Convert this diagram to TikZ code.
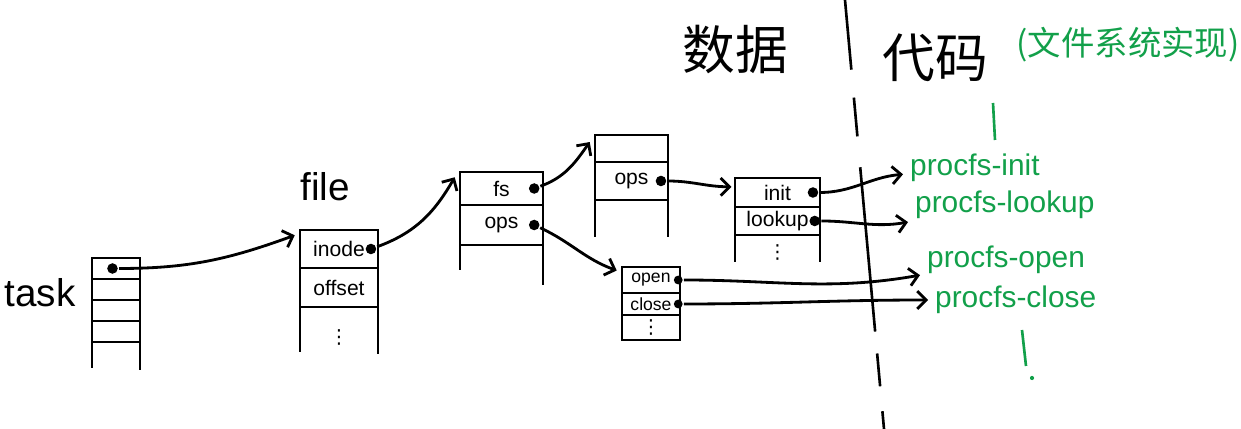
\documentclass[tikz,border=0pt]{standalone}
\usepackage{fontspec}
\setmainfont{Liberation Sans}
\newfontfamily\cjk{Noto Sans CJK SC}
\newfontfamily\dejavu{DejaVu Sans}
\usetikzlibrary{positioning, arrows.meta}
\definecolor{pengreen}{RGB}{18,160,74}

\begin{document}
\begin{tikzpicture}[
    x=0.02cm, y=0.02cm,
    line width=1.5pt,
    field/.style={rectangle, draw, inner sep=0pt, outer sep=0pt, font=\fontsize{12}{13}\selectfont},
    small/.style={font=\fontsize{10}{11}\selectfont},
    ptr/.style={circle, fill, inner sep=0pt, minimum size=6pt},
    link/.style={-{Straight Barb[length=5pt, width=10pt]}, line width=1.6pt},
    more/.style={inner sep=0pt, font=\dejavu\fontsize{11}{12}\selectfont},
    title/.style={font=\fontsize{22}{24}\selectfont},
    heading/.style={font=\cjk\fontsize{30}{32}\selectfont},
    note/.style={text=pengreen, font=\cjk\fontsize{19}{21}\selectfont},
    impl/.style={text=pengreen, anchor=west, font=\fontsize{17}{19}\selectfont}
]
\useasboundingbox (0,0) rectangle (1241,429);

% Headings
\node[heading] (data) at (735,379) {数据};
\node[heading] (code) at (935,371) {代码};
\node[note] (implnote) at (1128,384) {(文件系统实现)};
\draw[dash pattern=on 1.4cm off 0.56cm on 0.78cm off 0.62cm on 3.3cm off 0.44cm on 0.66cm off 0.5cm on 0.4cm off 1cm] (845,429) -- (884,0);

% task
\node[title] (task) at (40,136) {task};
\node[field, minimum width=0.96cm, minimum height=0.42cm, anchor=north west] (t1) at (92,171) {};
\node[field, minimum width=0.96cm, minimum height=0.42cm, below=0pt of t1] (t2) {};
\node[field, minimum width=0.96cm, minimum height=0.42cm, below=0pt of t2] (t3) {};
\node[field, minimum width=0.96cm, minimum height=0.42cm, below=0pt of t3] (t4) {};
\draw (t4.south west) -- ++(0,-26);
\draw (t4.south east) -- ++(0,-28);
\node[ptr] (taskp) at ([xshift=-2pt]t1.center) {};

% file
\node[title] (file) at (325,242) {file};
\node[field, minimum width=1.56cm, minimum height=0.76cm, anchor=north west] (inode) at (300,199) {inode};
\node[field, minimum width=1.56cm, minimum height=0.78cm, below=0pt of inode] (offset) {offset};
\draw (offset.south west) -- ++(0,-45);
\draw (offset.south east) -- ++(0,-47);
\node[more, below=12pt of offset] (filemore) {⋮};
\node[ptr] (inodep) at ([xshift=-4pt]inode.east) {};

% inode: fs / ops
\node[field, minimum width=1.66cm, minimum height=0.66cm, anchor=north west] (fs) at (460,257) {fs};
\node[field, minimum width=1.66cm, minimum height=0.8cm, below=0pt of fs] (iops) {ops};
\draw (iops.south west) -- ++(0,-25);
\draw (iops.south east) -- ++(0,-40);
\node[ptr] (fsp) at ([xshift=-5pt]fs.east) {};
\node[ptr] (iopsp) at ([xshift=-5pt]iops.east) {};

% super block
\node[field, minimum width=1.46cm, minimum height=0.54cm, anchor=north west] (sb) at (595,294) {};
\node[field, minimum width=1.46cm, minimum height=0.76cm, below=0pt of sb] (sops) {ops};
\draw (sops.south west) -- ++(0,-37);
\draw (sops.south east) -- ++(0,-37);
\node[ptr] (sopsp) at ([xshift=-4pt]sops.east) {};

% fs operations
\node[field, minimum width=1.7cm, minimum height=0.58cm, anchor=north west] (init) at (735,251) {init};
\node[field, minimum width=1.7cm, minimum height=0.56cm, below=0pt of init] (lookup) {lookup};
\draw (lookup.south west) -- ++(0,-27);
\draw (lookup.south east) -- ++(0,-27);
\node[more, below=5pt of lookup] (lookupmore) {⋮};
\node[ptr] (initp) at ([xshift=-4pt]init.east) {};
\node[ptr] (lookupp) at ([xshift=-3pt]lookup.east) {};

% file operations
\node[field, small, minimum width=1.16cm, minimum height=0.52cm, anchor=north west] (open) at (622,162) {open};
\node[field, small, minimum width=1.16cm, minimum height=0.44cm, below=0pt of open] (close) {close};
\node[field, more, minimum width=1.16cm, minimum height=0.5cm, below=0pt of close] (fopsmore) {⋮};
\node[ptr, minimum size=5pt] (openp) at ([xshift=-1pt]open.east) {};
\node[ptr, minimum size=5pt] (closep) at ([xshift=-1pt]close.east) {};

% Code side
\node[impl] (pinit) at (903,261) {procfs-init};
\node[impl] (plookup) at (908,224) {procfs-lookup};
\node[impl] (popen) at (920,169) {procfs-open};
\node[impl] (pclose) at (928,129) {procfs-close};
\draw[pengreen] (993,326) -- (995,289);
\draw[pengreen] (1022,99) -- (1026,63);
\fill[pengreen] (1032,51) circle (1.2pt);

% Entry points
\coordinate (fileIn) at ([xshift=-3pt,yshift=-3pt]inode.north west);
\coordinate (fsIn) at ([xshift=-3pt,yshift=-3pt]fs.north west);
\coordinate (sbIn) at ([xshift=-3pt,yshift=-4pt]sb.north west);
\coordinate (openIn) at ([xshift=-3pt,yshift=-2pt]open.north west);
\coordinate (initIn) at ([xshift=-2pt,yshift=-5pt]init.north west);

% Pointers
\draw[link] (taskp) to[out=0, in=200] (fileIn);
\draw[link] (inodep) to[out=20, in=240] (fsIn);
\draw[link] (fsp) to[out=20, in=235] (sbIn);
\draw[link] (iopsp) to[out=-25, in=160] (openIn);
\draw[link] (sopsp) to[out=0, in=180] (initIn);
\draw[link] (initp) to[out=0, in=185] (pinit);
\draw[link] (lookupp) to[out=0, in=190] (plookup);
\draw[link] (openp) to[out=0, in=190] (popen);
\draw[link] (closep) to[out=0, in=180] (pclose);
\end{tikzpicture}
\end{document}
